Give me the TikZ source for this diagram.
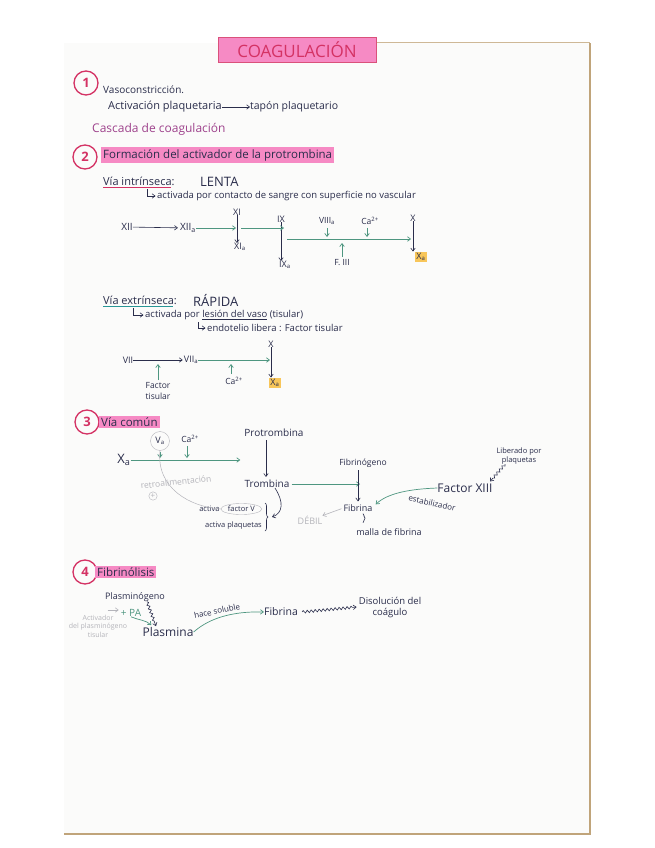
\documentclass[tikz,border=0pt]{standalone}
\usepackage{fontspec}
\setmainfont{Open Sans}
\usetikzlibrary{positioning, arrows.meta, shapes.geometric, calc, decorations.pathmorphing, decorations.pathreplacing}
\definecolor{inkNavy}{RGB}{42, 45, 75}
\definecolor{accGreen}{RGB}{78, 150, 128}
\definecolor{accRose}{RGB}{212, 50, 100}
\definecolor{accPink}{RGB}{246, 138, 196}
\definecolor{accPlum}{RGB}{158, 66, 140}
\definecolor{accTeal}{RGB}{40, 150, 150}
\definecolor{accGray}{RGB}{180, 180, 186}
\definecolor{accAmber}{RGB}{248, 198, 90}
\definecolor{paperC}{RGB}{251, 251, 250}
\definecolor{edgeC}{RGB}{165, 125, 65}
\newcommand{\fsz}[2]{\fontsize{#1}{#2}\selectfont}

\begin{document}
\begin{tikzpicture}[x=1pt, y=-1pt,
        t/.style={inner sep=0pt, text=inkNavy, font=\fsz{9}{11}},
        tl/.style={t, anchor=west},
        gt/.style={t, text=accGray},
        num/.style={circle, draw=accRose, line width=1.3pt, minimum size=24pt, inner sep=0pt,
            text=accRose, font=\fsz{13}{13}\bfseries},
        hl/.style={fill=accPink, inner sep=2pt},
        xa/.style={fill=accAmber, inner sep=1.5pt},
        karr/.style={-{Straight Barb[length=3pt, width=4.5pt]}, draw=inkNavy, line width=0.6pt},
        garr/.style={-{Straight Barb[length=3pt, width=4.5pt]}, draw=accGreen, line width=0.7pt},
        gyarr/.style={-{Straight Barb[length=3pt, width=4.5pt]}, draw=accGray, line width=0.6pt},
        squig/.style={decorate, decoration={snake, amplitude=1.3pt, segment length=4pt, post length=4pt}}
    ]
    % paper
    \useasboundingbox (0,0) rectangle (655,848);
    \fill[white] (0,0) rectangle (655,848);
    \fill[paperC] (64,43) rectangle (590,834);
    \draw[edgeC!70, line width=1.2pt] (64,834) -- (590,834) -- (590,43);
    \draw[edgeC!55, line width=1pt] (350,43) -- (590,43);

    % title
    \node[fill=accPink, draw=accRose!85, line width=1pt, minimum width=158pt, minimum height=25pt,
        text=accRose, font=\fsz{17}{17}] (title) at (297,50) {COAGULACIÓN};

    % 1
    \node[num] (n1) at (86,83) {1};
    \node[tl, font=\fsz{10}{12}] (vaso) at (103,90) {Vasoconstricción.};
    \node[tl, font=\fsz{11}{13}] (actp) at (108,107) {Activación plaquetaria};
    \node[tl, font=\fsz{10.5}{12}] (tapon) at (250,107) {tapón plaquetario};
    \draw[karr] (actp) -- (tapon);
    \node[tl, text=accPlum, font=\fsz{12}{14}] (casc) at (92,129) {Cascada de coagulación};

    % 2
    \node[num] (n2) at (85,157) {2};
    \node[tl, hl, font=\fsz{11.5}{13}] (form) at (101,155) {Formación del activador de la protrombina};
    \node[tl, font=\fsz{11}{13}] (vint) at (103,181) {Vía intrínseca:};
    \draw[accRose, line width=1.5pt] ([yshift=-2pt]vint.south west) -- ([yshift=-2pt, xshift=-4pt]vint.south east);
    \node[tl, font=\fsz{13}{15}] (lenta) at (200,182) {LENTA};
    \node[tl, font=\fsz{9.5}{11}] (actv) at (157,196) {activada por contacto de sangre con superficie no vascular};
    \draw[karr] ([shift={(-10pt,7pt)}]actv.west) |- ([xshift=-1.5pt]actv.west);

    \node[t, font=\fsz{10}{12}] (xii) at (127,227) {XII};
    \node[t, font=\fsz{10}{12}] (xiia) at (188,228) {XII\textsubscript{a}};
    \draw[karr, shorten >=2pt] (xii) -- (xiia);
    \node[t] (xi) at (237,212) {XI};
    \node[t] (xia) at (240,247) {XI\textsubscript{a}};
    \draw[karr] (xi) -- (xi |- xia.north);
    \draw[garr, shorten >=1pt] (xiia.east) -- (xiia.east -| xi);
    \node[t] (ix) at (281,219) {IX};
    \node[t] (ixa) at (285,265) {IX\textsubscript{a}};
    \draw[karr] (ix) -- (ix |- ixa.north);
    \draw[garr, shorten >=1pt] ([xshift=4pt]xiia.east -| xi) -- ([xshift=4pt]xiia.east -| ix);
    \node[t] (x1) at (413,218) {X};
    \node[t, xa] (xa1) at (421,257) {X\textsubscript{a}};
    \draw[karr] (x1) -- (x1 |- xa1.north);
    \coordinate (ixout) at (287,239);
    \coordinate (xin) at (411,239);
    \draw[garr] (ixout) -- (xin);
    \node[t, font=\fsz{8.5}{10}] (viii) at (327,221) {VIII\textsubscript{a}};
    \node[t, font=\fsz{8.5}{10}] (ca1) at (370,221) {Ca\textsuperscript{2+}};
    \draw[garr, shorten <=3pt, shorten >=2pt] (viii) -- (viii |- ixout);
    \draw[garr, shorten <=3pt, shorten >=2pt] ([xshift=-3pt]ca1.south) -- ([xshift=-3pt]ca1.south |- ixout);
    \node[t, font=\fsz{8.5}{10}] (f3) at (342,263) {F. III};
    \draw[garr, shorten <=3pt, shorten >=4pt] (f3.north) -- (f3.north |- ixout);

    \node[tl, font=\fsz{11}{13}] (vext) at (103,300) {Vía extrínseca:};
    \draw[accTeal, line width=1.5pt] ([yshift=-2pt]vext.south west) -- ([yshift=-2pt, xshift=-4pt]vext.south east);
    \node[tl, font=\fsz{13}{15}] (rap) at (193,300) {RÁPIDA};
    \node[tl, font=\fsz{9.5}{11}] (lesion) at (145,315) {activada por \underline{lesión del vaso} (tisular)};
    \draw[karr] ([shift={(-12pt,7pt)}]lesion.west) |- ([xshift=-1.5pt]lesion.west);
    \node[tl, font=\fsz{9.5}{11}] (endo) at (207,328) {endotelio libera : Factor tisular};
    \draw[karr] ([shift={(-9pt,6pt)}]endo.west) |- ([xshift=-1.5pt]endo.west);

    \node[t] (vii) at (128,360) {VII};
    \node[t] (viia) at (191,360) {VII\textsubscript{a}};
    \draw[karr, shorten >=1pt] (vii) -- (viia);
    \node[t] (x2) at (271,344) {X};
    \node[t, xa] (xa2) at (275,383) {X\textsubscript{a}};
    \draw[karr] (x2) -- (x2 |- xa2.north);
    \draw[garr, shorten >=1pt] (viia.east) -- (viia.east -| x2);
    \node[t, font=\fsz{8.5}{11}, align=center] (ft) at (158,391) {Factor\\tisular};
    \draw[garr, shorten <=2pt, shorten >=4pt] (ft.north) -- (ft.north |- vii);
    \node[t, font=\fsz{8.5}{10}] (ca2) at (234,381) {Ca\textsuperscript{2+}};
    \draw[garr, shorten <=3pt, shorten >=4pt] ([xshift=-3pt]ca2.north) -- ([xshift=-3pt]ca2.north |- vii);

    % 3
    \node[num] (n3) at (87,422) {3};
    \node[tl, hl, font=\fsz{11.5}{13}] (vcom) at (99,422) {Vía común};
    \node[t, font=\fsz{13}{15}] (xa3) at (124,460) {X\textsubscript{a}};
    \node[t, circle, draw=accGray, inner sep=2.5pt] (va) at (160,441) {V\textsubscript{a}};
    \node[t, font=\fsz{8.5}{10}] (ca3) at (190,439) {Ca\textsuperscript{2+}};
    \node[t, font=\fsz{10}{12}] (protr) at (274,433) {Protrombina};
    \node[t, font=\fsz{10}{12}] (tromb) at (267,484) {Trombina};
    \draw[garr] (xa3.east) -- ([xshift=-4pt]xa3.east -| protr.west);
    \draw[garr, shorten <=1pt, shorten >=2pt] (va) -- (va |- xa3.east);
    \draw[garr, shorten <=3pt, shorten >=2pt] ([xshift=-3pt]ca3.south) -- ([xshift=-3pt]ca3.south |- xa3.east);
    \draw[karr, shorten <=3pt, shorten >=3pt] ([xshift=-8pt]protr.south) -- ([xshift=-1pt]tromb.north);
    \node[t, font=\fsz{8.5}{10}] (fibg) at (363,463) {Fibrinógeno};
    \node[t, font=\fsz{9}{11}] (fib) at (358,508) {Fibrina};
    \draw[garr, shorten <=2pt] (tromb.east) -- ([xshift=-3pt]tromb.east -| fibg.center);
    \draw[karr, shorten <=3pt, shorten >=3pt] ([xshift=-5pt]fibg.south) -- (fib.north);
    \node[gt, font=\fsz{9}{11}] (debil) at (310,520) {DÉBIL};
    \draw[gyarr, shorten <=2pt] (fib.west) -- (debil.north east);
    \draw[inkNavy, line width=0.6pt, decorate, decoration={brace, amplitude=2pt}] ([xshift=5pt, yshift=-2pt]fib.south) -- ([xshift=5pt, yshift=-11pt]fib.south);
    \node[t, font=\fsz{9}{11}] (malla) at (389,532) {malla de fibrina};
    \node[t, font=\fsz{12}{14}] (fxiii) at (465,488) {Factor XIII};
    \draw[garr] (fxiii.west) .. controls (410,489) and (388,493) .. ([xshift=3pt]fib.north east);
    \node[t, font=\fsz{8}{10}, rotate=-12] (estab) at (432,503) {estabilizador};
    \node[t, font=\fsz{7.5}{8.5}, align=center] (lib) at (519,456) {Liberado por\\plaquetas};
    \draw[karr, squig] ([xshift=-14pt]lib.south) -- ([xshift=25pt, yshift=2pt]fxiii.north);

    \coordinate (brtip) at (272,517);
    \draw[inkNavy, line width=0.6pt, decorate, decoration={brace, amplitude=3pt}] (265,503) -- (265,531);
    \draw[karr] ([xshift=8pt]tromb.south) .. controls (284,502) and (283,513) .. (brtip);
    \node[t, font=\fsz{7.5}{9}, anchor=east, ellipse, draw=accGray, inner sep=1pt] (facv) at (262,509) {factor V};
    \node[t, font=\fsz{7.5}{9}, anchor=east] (activa) at ([xshift=-1pt]facv.west) {activa};
    \node[t, font=\fsz{7.5}{9}, anchor=east] (plaq) at (262,526) {activa plaquetas};
    \draw[accGray, line width=0.5pt] (va.south) .. controls (156,488) and (190,507) .. (facv.west);
    \node[gt, font=\fsz{8.5}{10}, rotate=6] (retro) at (176,482) {retroalimentación};
    \node[gt, circle, draw=accGray, inner sep=0.6pt, font=\fsz{8}{8}] (plus) at (153,496) {+};

    % 4
    \node[num] (n4) at (85,572) {4};
    \node[tl, hl, font=\fsz{11.5}{13}] (fibl) at (95,572) {Fibrinólisis};
    \node[t, font=\fsz{9}{11}] (plg) at (135,597) {Plasminógeno};
    \node[t, font=\fsz{12}{14}] (plm) at (168,632) {Plasmina};
    \draw[karr, squig] ([xshift=12pt]plg.south) -- ([xshift=-12pt, yshift=1pt]plm.north);
    \node[t, text=accGreen, font=\fsz{10}{12}] (pa) at (131,613) {+ PA};
    \node[gt, font=\fsz{7}{8.5}, align=center] (tpa) at (98,626) {Activador\\del plasminógeno\\tisular};
    \draw[gyarr] ([xshift=-13pt, yshift=3pt]pa.west) -- ([xshift=-2pt, yshift=3pt]pa.west);
    \draw[garr] (pa.south) .. controls (138,620) and (146,620) .. ([xshift=9pt, yshift=2pt]plm.north west);
    \node[t, font=\fsz{10.5}{12}] (fib4) at (281,612) {Fibrina};
    \draw[garr] (plm.east) .. controls (205,622) and (225,611) .. (fib4.west);
    \node[t, font=\fsz{8}{10}, rotate=12] (sol) at (217,611) {hace soluble};
    \node[t, font=\fsz{9.5}{11}, align=center] (disol) at (390,607) {Disolución del\\coágulo};
    \draw[karr, squig] ([xshift=4pt]fib4.east) -- ([xshift=-2pt]disol.west);
\end{tikzpicture}
\end{document}
